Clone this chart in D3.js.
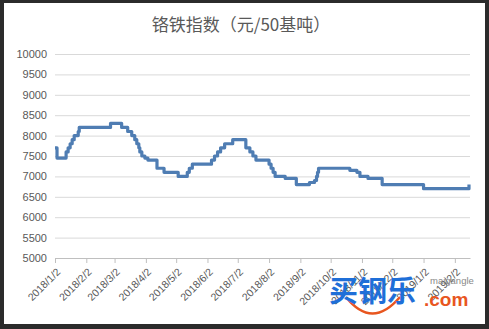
<!DOCTYPE html>
<html>
<head>
<meta charset="utf-8">
<script src="https://cdn.jsdelivr.net/npm/d3@7"></script>
<style>
  body { margin: 0; background: #2b2b2b; overflow: hidden; }
  svg { display: block; }
</style>
</head>
<body>
<svg id="chart"></svg>
<script>
// chart data
const title = "铬铁指数（元/50基吨）";
const dates = ["2018/1/2","2018/1/4","2018/1/13","2018/1/15","2018/1/17","2018/1/19","2018/1/21","2018/1/25","2018/1/26",
  "2018/2/26","2018/3/9","2018/3/15","2018/3/19","2018/3/22","2018/3/24","2018/3/26","2018/3/27","2018/3/29",
  "2018/4/1","2018/4/4","2018/4/13","2018/4/20","2018/5/4","2018/5/13","2018/5/15","2018/5/18",
  "2018/6/6","2018/6/9","2018/6/12","2018/6/15","2018/6/19","2018/6/27","2018/7/10","2018/7/14","2018/7/17","2018/7/20",
  "2018/8/2","2018/8/4","2018/8/6","2018/8/8","2018/8/18","2018/8/29","2018/9/11","2018/9/16","2018/9/18","2018/9/19","2018/9/20",
  "2018/10/21","2018/10/28","2018/10/31","2018/11/8","2018/11/22","2019/1/2","2019/2/16"];
const values = [7700,7450,7600,7700,7800,7900,8000,8100,8200,
  8300,8200,8100,8000,7900,7800,7700,7600,7500,
  7450,7400,7200,7100,7000,7100,7200,7300,
  7400,7500,7600,7700,7800,7900,7700,7600,7500,7400,
  7300,7200,7100,7000,6950,6800,6850,6900,7000,7100,7200,
  7150,7100,7000,6950,6800,6700,6800];
const yTicks = [5000,5500,6000,6500,7000,7500,8000,8500,9000,9500,10000];
const xTickLabels = ["2018/1/2","2018/2/2","2018/3/2","2018/4/2","2018/5/2","2018/6/2","2018/7/2",
  "2018/8/2","2018/9/2","2018/10/2","2018/11/2","2018/12/2","2019/1/2","2019/2/2"];
const xEnd = "2019/2/17";

const W = 489, H = 329;
const parse = d3.timeParse("%Y/%m/%d");
const fmt = d3.timeFormat("%Y/%-m/%-d");

const svg = d3.select("#chart").attr("width", W).attr("height", H);

// white chart card on the dark screenshot background
svg.append("rect")
  .attr("x", 4).attr("y", 3)
  .attr("width", 481).attr("height", 321)
  .attr("fill", "#ffffff");

svg.append("text")
  .attr("x", 241).attr("y", 31)
  .attr("text-anchor", "middle")
  .style("font-family", "'Noto Sans CJK SC', sans-serif")
  .style("font-size", "17px")
  .style("fill", "#595959")
  .text(title);

const plot = { left: 55, right: 470, top: 54, bottom: 258 };

const x = d3.scaleTime()
  .domain([parse(dates[0]), parse(xEnd)])
  .range([plot.left, plot.right]);

const y = d3.scaleLinear()
  .domain([5000, 10000])
  .range([plot.bottom, plot.top]);

// horizontal gridlines + y labels
const yAxis = svg.append("g")
  .attr("transform", `translate(${plot.left},0)`)
  .call(d3.axisLeft(y).tickValues(yTicks).tickSize(-(plot.right - plot.left)).tickPadding(8).tickFormat(d3.format("d")));
yAxis.select(".domain").remove();
yAxis.selectAll("line").attr("stroke", "#d9d9d9").attr("stroke-width", 1);
yAxis.selectAll("text")
  .style("font-family", "'Liberation Sans', Arial, sans-serif")
  .style("font-size", "11px")
  .style("fill", "#595959");

// bottom axis with month ticks
const xAxis = svg.append("g")
  .attr("transform", `translate(0,${plot.bottom})`)
  .call(d3.axisBottom(x).tickValues(xTickLabels.map(parse)).tickSize(5).tickSizeOuter(0).tickFormat(fmt));
xAxis.select(".domain").attr("stroke", "#bfbfbf");
xAxis.selectAll("line").attr("stroke", "#bfbfbf");
xAxis.selectAll("text")
  .attr("x", 0).attr("y", 0).attr("dy", "0.35em")
  .attr("transform", "translate(3,12) rotate(-45)")
  .style("text-anchor", "end")
  .style("font-family", "'Liberation Sans', Arial, sans-serif")
  .style("font-size", "10.5px")
  .style("fill", "#595959");

// the index line
const series = dates.map((d, i) => ({ date: parse(d), value: values[i] }));
const line = d3.line()
  .x(d => x(d.date))
  .y(d => y(d.value))
  .curve(d3.curveStepAfter);

svg.append("path")
  .datum(series)
  .attr("d", line)
  .attr("fill", "none")
  .attr("stroke", "#4f7db3")
  .attr("stroke-width", 3.2)
  .attr("stroke-linejoin", "round");

// watermark
const wm = svg.append("g");
wm.append("path")
  .attr("d", "M346,297 Q372,330 400,297")
  .attr("fill", "none")
  .attr("stroke", "#e8561f")
  .attr("stroke-width", 2.5);
wm.append("text")
  .attr("x", 329).attr("y", 302)
  .style("font-family", "'Noto Sans CJK SC', sans-serif")
  .style("font-size", "29px")
  .style("font-weight", "bold")
  .style("fill", "#1f6fd8")
  .text("买钢乐");
wm.append("text")
  .attr("x", 430).attr("y", 284)
  .style("font-family", "'Liberation Sans', Arial, sans-serif")
  .style("font-size", "9.5px")
  .style("fill", "#888888")
  .text("maigangle");
wm.append("text")
  .attr("x", 424).attr("y", 306)
  .style("font-family", "'Liberation Sans', Arial, sans-serif")
  .style("font-size", "19px")
  .style("font-weight", "bold")
  .style("fill", "#e8561f")
  .text(".com");
</script>
</body>
</html>
